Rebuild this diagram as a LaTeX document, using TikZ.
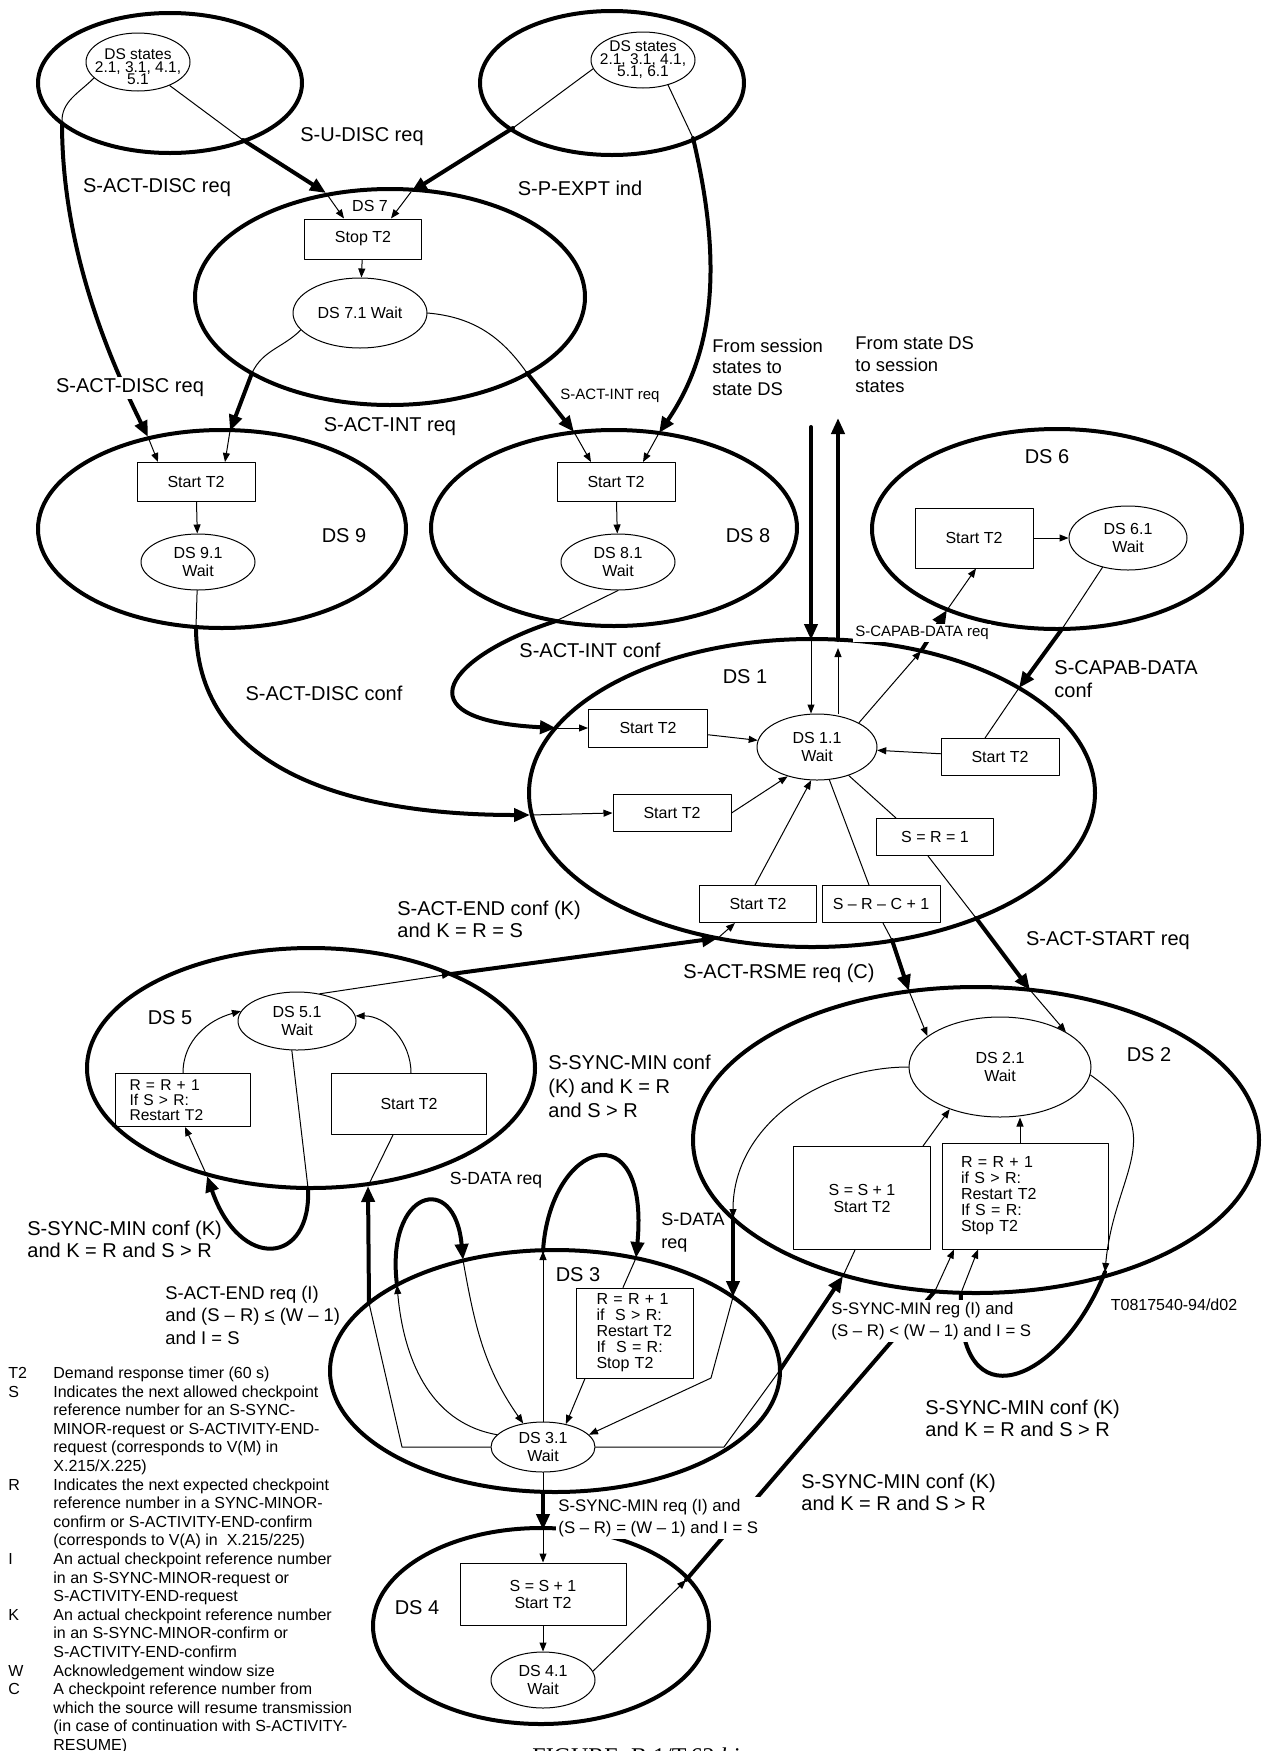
\documentclass[tikz,border=0pt]{standalone}
\usepackage{fontspec}
\setmainfont{Liberation Sans}
\newfontfamily\capfont{Liberation Serif}
\usetikzlibrary{shapes.geometric, arrows.meta, calc}

\begin{document}
\begin{tikzpicture}[x=0.5pt, y=-0.5pt, line join=round, line cap=round, >={Triangle[length=4.5pt, width=3.5pt]},
  bigstate/.style={draw, ellipse, line width=2pt, inner sep=0pt},
  waitstate/.style={draw, ellipse, line width=0.5pt, inner sep=0pt, align=center, font=\fontsize{8}{8.8}\selectfont},
  actbox/.style={draw, rectangle, line width=0.5pt, inner sep=0pt, align=center, font=\fontsize{8}{8.5}\selectfont},
  leftbox/.style={actbox, align=left, font=\fontsize{8}{8}\selectfont},
  fine/.style={line width=0.5pt},
  heavy/.style={line width=2pt, -{Triangle[length=8pt, width=6.5pt]}},
  heavyline/.style={line width=2pt},
  lbl/.style={inner sep=0pt, align=left, font=\fontsize{10}{11}\selectfont},
  smalllbl/.style={inner sep=0pt, font=\fontsize{7.5}{8}\selectfont},
  cover/.style={fill=white, inner sep=1pt}]
\useasboundingbox (0,0) rectangle (1262,1751);

% outer states
\node[bigstate, minimum width=132pt, minimum height=70pt] (srcA) at (170,83) {};
\node[bigstate, minimum width=132pt, minimum height=72pt] (srcB) at (612,83) {};
\node[bigstate, minimum width=195pt, minimum height=108pt] (dsseven) at (390,297) {};
\node[bigstate, minimum width=184pt, minimum height=99pt] (dsnine) at (222,529) {};
\node[bigstate, minimum width=183pt, minimum height=98pt] (dseight) at (614,528) {};
\node[bigstate, minimum width=185pt, minimum height=100pt] (dssix) at (1057,529) {};
\node[bigstate, minimum width=283pt, minimum height=154pt] (dsone) at (812,793) {};
\node[bigstate, minimum width=224pt, minimum height=120pt] (dsfive) at (311,1068) {};
\node[bigstate, minimum width=283pt, minimum height=153pt] (dstwo) at (976,1140) {};
\node[bigstate, minimum width=225pt, minimum height=121pt] (dsthree) at (555,1371) {};
\node[bigstate, minimum width=168pt, minimum height=98pt] (dsfour) at (541,1626) {};

% wait states
\node[waitstate, minimum width=52pt, minimum height=29pt] (srcAin) at (138,62) {};
\node[waitstate, minimum width=52pt, minimum height=28pt] (srcBin) at (643,60) {};
\node[inner sep=0pt, align=center, font={\fontsize{7.75}{6.25}\selectfont\lineskiplimit=-5pt}] (srcAtext) at (138,67) {DS states\\2.1, 3.1, 4.1,\\5.1};
\node[inner sep=0pt, align=center, font={\fontsize{7.75}{6.25}\selectfont\lineskiplimit=-5pt}] (srcBtext) at (643,60) {DS states\\2.1, 3.1, 4.1,\\5.1, 6.1};
\node[waitstate, minimum width=67pt, minimum height=35pt] (waitseven) at (360,313) {DS 7.1 Wait};
\node[waitstate, minimum width=57pt, minimum height=28pt] (waitnine) at (198,562) {DS 9.1\\Wait};
\node[waitstate, minimum width=57pt, minimum height=28pt] (waiteight) at (618,562) {DS 8.1\\Wait};
\node[waitstate, minimum width=59pt, minimum height=32pt] (waitsix) at (1128,538) {DS 6.1\\Wait};
\node[waitstate, minimum width=60pt, minimum height=33pt] (waitone) at (817,747) {DS 1.1\\Wait};
\node[waitstate, minimum width=59pt, minimum height=29pt] (waitfive) at (297,1021) {DS 5.1\\Wait};
\node[waitstate, minimum width=91pt, minimum height=50pt] (waittwo) at (1000,1067) {DS 2.1\\Wait};
\node[waitstate, minimum width=52pt, minimum height=25pt] (waitthree) at (543,1447) {DS 3.1\\Wait};
\node[waitstate, minimum width=52pt, minimum height=28pt] (waitfour) at (543,1680) {DS 4.1\\Wait};

% actions
\node[actbox, minimum width=58.5pt, minimum height=20pt] (stopseven) at (363,239) {Stop T2};
\node[actbox, minimum width=59pt, minimum height=19.5pt] (startnine) at (196,482) {Start T2};
\node[actbox, minimum width=59pt, minimum height=19.5pt] (starteight) at (616,482) {Start T2};
\node[actbox, minimum width=59pt, minimum height=30pt] (startsix) at (974,538) {Start T2};
\node[actbox, minimum width=59.5pt, minimum height=19pt] (startonea) at (648,728) {Start T2};
\node[actbox, minimum width=59pt, minimum height=18.5pt] (startoneb) at (672,813) {Start T2};
\node[actbox, minimum width=59pt, minimum height=18.5pt] (startonec) at (1000,757) {Start T2};
\node[actbox, minimum width=58.5pt, minimum height=18.5pt] (srone) at (935,837) {S = R = 1};
\node[actbox, minimum width=58.5pt, minimum height=18.5pt] (startoned) at (758,904) {Start T2};
\node[actbox, minimum width=59pt, minimum height=18.5pt] (srcone) at (881,904) {S – R – C + 1};
\node[leftbox, inner xsep=7pt, text width=53.5pt, minimum height=26.5pt, font=\fontsize{7.8}{7.5}\selectfont] (rfive) at (183,1100) {R = R + 1\\If S > R:\\Restart T2};
\node[actbox, minimum width=77.5pt, minimum height=30.5pt] (startfive) at (409,1104) {Start T2};
\node[actbox, minimum width=68.5pt, minimum height=51.5pt] (stwo) at (862,1198) {S = S + 1\\Start T2};
\node[leftbox, inner xsep=9.5pt, text width=64pt, minimum height=53pt] (rtwo) at (1025,1196) {R = R + 1\\if S > R:\\Restart T2\\If S = R:\\Stop T2};
\node[leftbox, inner xsep=10pt, text width=38.5pt, minimum height=45pt] (rthree) at (635,1333) {R = R + 1\\if\ \ S > R:\\Restart T2\\If\ \ S = R:\\Stop T2};
\node[actbox, minimum width=83pt, minimum height=31pt] (sfour) at (543,1594) {S = S + 1\\Start T2};

% DS 7
\coordinate (uA) at (243,140);
\coordinate (uB) at (326,193);
\draw[fine] (srcAin) -- (uA);
\draw[heavy] (uA) -- (uB);
\draw[fine, ->] (uB) -- ([xshift=-9.5pt]stopseven.north);
\coordinate (pA) at (513,128);
\coordinate (pB) at (411,192);
\draw[fine] (srcBin.190) -- (pA);
\draw[heavy] (pA) -- (pB);
\draw[fine, ->] (pB) -- ([xshift=14pt]stopseven.north);

% S-ACT-DISC req
\coordinate (dA) at (62,123);
\coordinate (dB) at (148,437);
\draw[fine] (srcAin.200) to[out=-135, in=93] (dA);
\draw[heavy] (dA) .. controls (62,250) and (110,360) .. (dB);
\draw[fine, ->] (dB) -- ([xshift=-19pt]startnine.north);

% S-ACT-INT req
\coordinate (iA) at (252,373);
\coordinate (iB) at (230,431);
\draw[fine] (waitseven.196) to[out=-135, in=65] (iA);
\draw[heavy] (iA) -- (iB);
\draw[fine, ->] (iB) -- ([xshift=14.5pt]startnine.north);
\coordinate (jA) at (527,373);
\coordinate (jB) at (574,432);
\draw[fine] (waitseven.east) to[out=-5, in=125] (jA);
\draw[heavy] (jA) -- (jB);
\draw[fine, ->] (jB) -- ([xshift=-12.5pt]starteight.north);

% S-P-EXPT ind
\coordinate (eA) at (693,138);
\coordinate (eB) at (659,433);
\draw[fine] (srcBin.-45) -- (eA);
\draw[heavy] (eA) .. controls (722,260) and (716,350) .. (eB);
\draw[fine, ->] (eB) -- ([xshift=13.5pt]starteight.north);

\foreach \a/\b in {stopseven/waitseven, startnine/waitnine, starteight/waiteight, startsix/waitsix,
  startonea/waitone, startonec/waitone, sfour/waitfour}
  \draw[fine, ->] (\a) -- (\b);

% S-ACT-DISC conf
\coordinate (cA) at (196,627);
\coordinate (cB) at (530,815);
\draw[fine] (waitnine) -- (cA);
\draw[heavy] (cA) .. controls (196,760) and (330,815) .. (cB);
\draw[fine, ->] (cB) -- (startoneb.west);

% S-ACT-INT conf
\coordinate (kA) at (556,621);
\coordinate (kB) at (556,728);
\draw[fine] (waiteight.south) -- (kA);
\draw[heavy] (kA) .. controls (450,655) and (395,720) .. (kB);
\draw[fine, ->] (kB) -- (startonea.west);

% session states
\coordinate (sA) at (811,427);
\coordinate (sB) at (811,640);
\draw[heavy] (sA) -- (sB);
\draw[fine, ->] (sB) -- (sB |- waitone.north);
\coordinate (tA) at (838,640);
\coordinate (tB) at (838,418);
\draw[fine, ->] (tA |- waitone.north) -- ([yshift=-4pt]tA);
\draw[heavy] (tA) -- (tB);

% S-CAPAB-DATA
\coordinate (capA) at (921,651);
\coordinate (capB) at (947,610);
\draw[fine, ->] (waitone.30) -- (capA);
\draw[heavy] (capA) -- (capB);
\draw[fine, ->] (capB) -- ([xshift=1pt]startsix.south);
\coordinate (cfA) at (1062,629);
\coordinate (cfB) at (1019,688);
\draw[fine] (waitsix.-131) -- (cfA);
\draw[heavy] (cfA) -- (cfB);
\draw[fine] (cfB) -- ([xshift=-7.5pt]startonec.north);

% inside DS 1
\draw[fine, ->] (startoneb.east) -- (waitone.-135);
\draw[fine] (waitone) -- ([xshift=-19.5pt]srone.north);
\draw[fine] (waitone) -- ([xshift=-6pt]srcone.north);
\draw[fine, ->] ([xshift=-1.5pt]startoned.north) -- (waitone.-100);

% S-ACT-START req
\coordinate (stA) at (976,918);
\coordinate (stB) at (1030,990);
\draw[fine] ([xshift=-3.5pt]srone.south) -- (stA);
\draw[heavy] (stA) -- (stB);
\draw[fine, ->] (stB) -- (waittwo.28);

% S-ACT-RSME req
\coordinate (rsA) at (892,940);
\coordinate (rsB) at (909,991);
\draw[fine] ([xshift=1pt]srcone.south) -- (rsA);
\draw[heavy] (rsA) -- (rsB);
\draw[fine, ->] (rsB) -- (waittwo.157);

% S-ACT-END conf
\coordinate (ecA) at (451,974);
\coordinate (ecB) at (718,938);
\draw[fine, ->] (waitfive.50) -- (ecA);
\draw[heavy] (ecA) -- (ecB);
\draw[fine, ->] (ecB) -- ([xshift=-11.5pt]startoned.south);

% inside DS 5
\draw[fine, ->] (rfive.north) to[out=90, in=195] (waitfive.170);
\draw[fine, ->] ([xshift=1pt]startfive.north) to[out=90, in=0] (waitfive.5);
\coordinate (lA) at (308,1188);
\coordinate (lB) at (207,1176);
\draw[fine] (waitfive.-100) -- (lA);
\draw[heavy] (lA) .. controls (312,1265) and (240,1272) .. (lB);
\draw[fine, ->] (lB) -- ([xshift=1pt]rfive.south);

% S-ACT-END req
\coordinate (aeA) at (402,1447);
\coordinate (aeB) at (369,1303);
\coordinate (aeC) at (368,1186);
\draw[fine] (waitthree.west) -- (aeA) -- (aeB);
\draw[heavy] (aeB) -- (aeC);
\draw[fine] (aeC) -- ([xshift=-8pt]startfive.south);

% S-DATA req in DS 3
\coordinate (daA) at (397,1285);
\coordinate (daB) at (463,1260);
\draw[fine, ->] (waitthree.165) to[out=170, in=-85] (daA);
\draw[heavy] (daA) .. controls (385,1190) and (455,1170) .. (daB);
\draw[fine, ->] (daB) to[out=-80, in=125] (waitthree.130);
\coordinate (dbA) at (543,1251);
\coordinate (dbB) at (636,1258);
\draw[fine, ->] (waitthree.north) -- (dbA);
\draw[heavy] (dbA) .. controls (550,1140) and (650,1110) .. (dbB);
\draw[fine] (dbB) -- ([xshift=-6pt]rthree.north);
\draw[fine, ->] ([xshift=-25pt]rthree.south) -- (waitthree.45);

% S-DATA req from DS 2
\coordinate (dcA) at (733,1218);
\coordinate (dcB) at (733,1297);
\coordinate (dcC) at (711,1378);
\draw[fine, ->] (waittwo.west) to[out=180, in=90] (dcA);
\draw[heavy] (dcA) -- (dcB);
\draw[fine, ->] (dcB) -- (dcC) -- (waitthree.15);

% S-SYNC-MIN req to DS 2
\coordinate (srA) at (724,1447);
\coordinate (srB) at (780,1370);
\coordinate (srC) at (843,1276);
\draw[fine] (waitthree.east) -- (srA) -- (srB);
\draw[heavy] (srB) -- (srC);
\draw[fine] (srC) -- ([xshift=-3.5pt]stwo.south);

% inside DS 2
\coordinate (rtwotop) at ([xshift=-2.5pt]rtwo.north);
\draw[fine, ->] ([xshift=30.5pt]stwo.north) -- (waittwo.-140);
\draw[fine, ->] (rtwotop) -- (rtwotop |- waittwo.south);
\coordinate (smA) at (1105,1272);
\coordinate (smB) at (961,1293);
\draw[fine, ->] (waittwo.-5) to[out=-35, in=85, looseness=1.3] (smA);
\draw[heavyline] (smA) .. controls (1060,1385) and (955,1425) .. (smB);
\draw[fine, ->] (smB) -- ([xshift=-23.5pt]rtwo.south);
\coordinate (sfA) at (686,1580);
\coordinate (sfB) at (935,1291);
\draw[fine, ->] (waitfour.10) -- (sfA);
\draw[heavyline] (sfA) -- (sfB);
\draw[fine, ->] (sfB) -- ([xshift=-35.5pt]rtwo.south);

% DS 3 to DS 4
\coordinate (ftA) at (543,1492);
\coordinate (ftB) at (543,1530);
\draw[fine] (waitthree.south) -- (ftA);
\draw[heavy] (ftA) -- (ftB);
\draw[fine, ->] (ftB) -- (sfour.north);

% state names
\foreach \nm/\xy/\txt in {nseven/{370,206}/DS 7}
  \node[inner sep=0pt, font=\fontsize{8}{8}\selectfont] (\nm) at (\xy) {\txt};
\foreach \nm/\xy/\txt in {nnine/{344,536}/DS 9, neight/{748,536}/DS 8, nsix/{1047,457}/DS 6,
  none/{745,677}/DS 1, nfive/{170,1018}/DS 5, ntwo/{1149,1055}/DS 2, nthree/{578,1275}/DS 3, nfour/{417,1608}/DS 4}
  \node[lbl] (\nm) at (\xy) {\txt};

% labels
\node[lbl] (lUdisc) at (362,137) {S-U-DISC req};
\node[lbl] (lActDiscA) at (157,188) {S-ACT-DISC req};
\node[lbl] (lPexpt) at (580,188) {S-P-EXPT ind};
\node[lbl, cover] (lActDiscB) at (130,388) {S-ACT-DISC req};
\node[lbl] (lActIntA) at (390,427) {S-ACT-INT req};
\node[smalllbl] (lActIntB) at (610,396) {S-ACT-INT req};
\node[lbl, anchor=west, font=\fontsize{9.2}{10.75}\selectfont] (lFromSess) at (712,367) {From session\\states to\\state DS};
\node[lbl, anchor=west, font=\fontsize{9.2}{10.75}\selectfont] (lFromDS) at (855,365) {From state DS\\to session\\states};
\node[smalllbl, cover] (lCapReq) at (922,633) {S-CAPAB-DATA req};
\node[lbl, anchor=west, font=\fontsize{10}{11.5}\selectfont] (lCapConf) at (1054,679) {S-CAPAB-DATA\\conf};
\node[lbl] (lActIntConf) at (590,650) {S-ACT-INT conf};
\node[lbl] (lActDiscConf) at (324,693) {S-ACT-DISC conf};
\node[lbl, anchor=west] (lActEndConf) at (397,919) {S-ACT-END conf (K)\\and K = R = S};
\node[lbl] (lRsme) at (779,973) {S-ACT-RSME req (C)};
\node[lbl] (lActStart) at (1108,941) {S-ACT-START req};
\node[lbl, anchor=west, font=\fontsize{10}{12}\selectfont] (lSyncConfA) at (548,1086) {S-SYNC-MIN conf\\(K) and K = R\\and S > R};
\node[lbl, anchor=west] (lSyncConfB) at (27,1239) {S-SYNC-MIN conf (K)\\and K = R and S > R};
\node[lbl, font=\fontsize{8.8}{10}\selectfont] (lDataA) at (496,1180) {S-DATA req};
\node[lbl, anchor=west, font=\fontsize{9}{11.5}\selectfont] (lDataB) at (661,1233) {S-DATA\\req};
\node[lbl, anchor=west, font=\fontsize{9.2}{11.25}\selectfont] (lActEndReq) at (165,1315) {S-ACT-END req (I)\\and (S – R) ≤ (W – 1)\\and I = S};
\node[lbl, cover, anchor=west, font=\fontsize{8.4}{11}\selectfont] (lSyncReqA) at (829,1321) {S-SYNC-MIN reg (I) and\\(S – R) < (W – 1) and I = S};
\node[lbl, cover, anchor=west, font=\fontsize{8.4}{11}\selectfont] (lSyncReqB) at (556,1518) {S-SYNC-MIN req (I) and\\(S – R) = (W – 1) and I = S};
\node[lbl, anchor=west] (lSyncConfC) at (925,1418) {S-SYNC-MIN conf (K)\\and K = R and S > R};
\node[lbl, anchor=west] (lSyncConfD) at (801,1492) {S-SYNC-MIN conf (K)\\and K = R and S > R};
\node[inner sep=0pt, font=\fontsize{8}{8}\selectfont] (tag) at (1174,1305) {T0817540-94/d02};

% key
\node[anchor=north west, inner sep=0pt, font=\fontsize{8}{9.3}\selectfont] (legend) at (8,1365) {%
\begin{tabular}{@{}p{22.5pt}@{}l@{}}
T2 & Demand response timer (60 s)\\
S & Indicates the next allowed checkpoint\\
 & reference number for an S-SYNC-\\
 & MINOR-request or S-ACTIVITY-END-\\
 & request (corresponds to V(M) in\\
 & X.215/X.225)\\
R & Indicates the next expected checkpoint\\
 & reference number in a SYNC-MINOR-\\
 & confirm or S-ACTIVITY-END-confirm\\
 & (corresponds to V(A) in\ \ X.215/225)\\
I & An actual checkpoint reference number\\
 & in an S-SYNC-MINOR-request or\\
 & S-ACTIVITY-END-request\\
K & An actual checkpoint reference number\\
 & in an S-SYNC-MINOR-confirm or\\
 & S-ACTIVITY-END-confirm\\
W & Acknowledgement window size\\
C & A checkpoint reference number from\\
 & which the source will resume transmission\\
 & (in case of continuation with S-ACTIVITY-\\
 & RESUME)
\end{tabular}};
\node[anchor=north west, inner sep=0pt, font=\capfont\fontsize{12}{12}\selectfont] (caption) at (532,1747) {FIGURE\ \ B.1/T.62 \textit{bis}};
\end{tikzpicture}
\end{document}
